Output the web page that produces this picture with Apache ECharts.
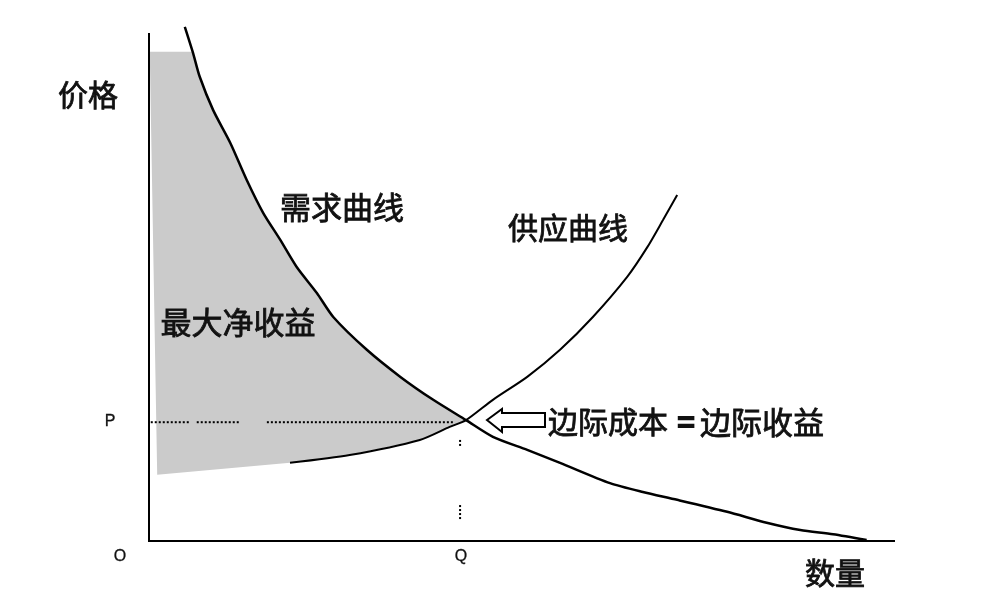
<!DOCTYPE html>
<html>
<head>
<meta charset="utf-8">
<script src="https://cdn.jsdelivr.net/npm/echarts@6/dist/echarts.min.js"></script>
<style>
html,body{margin:0;padding:0;background:#fff;}
#chart{width:1000px;height:604px;}
</style>
</head>
<body>
<div id="chart"></div>
<script>
// Demand curve (quantity, price) in chart units 0-100
const demandCurve = [
  [4.8,98.7],[5.9,93.7],[6.8,89.1],[8.6,82.7],[10.9,76.4],[13.1,69.3],[15.3,63.0],
  [17.6,57.8],[19.8,52.6],[22.5,47.6],[24.7,43.0],[29.2,36.7],[33.7,31.5],[38.1,27.1],
  [42.5,23.2],[46.1,20.0],[50.7,17.5],[55.1,15.0],[61.8,11.1],[66.2,9.4],[70.8,7.9],
  [77.5,5.6],[82.8,3.5],[87.3,2.1],[91.7,1.3],[96.2,0.2]
];
// Supply curve visible black part
const supplyCurve = [
  [18.9,15.0],[26.9,16.5],[36.3,19.4],[40.3,21.9],[42.5,23.2],[46.1,27.1],[50.7,31.5],
  [55.1,36.7],[59.5,43.0],[64.1,50.7],[66.8,56.4],[68.9,61.6],[70.8,66.4]
];
// Lower edge of shaded area (supply extended to the left)
const supplyLeft = [[1.1,12.7],[18.9,15.0]];
// Shaded area top boundary
const shadeTop = [[0.1,93.9],[5.9,93.9]];
// Equilibrium
const eqPrice = 22.8;
const eqQty = 41.7;
const priceDots = [[[-0.3,eqPrice],[5.4,eqPrice]],[[6.4,eqPrice],[12.1,eqPrice]],[[15.8,eqPrice],[41.0,eqPrice]]];
const qtyDots = [[[eqQty,19.4],[eqQty,18.0]],[[eqQty,6.9],[eqQty,4.0]]];
const axisTop = 97.5;
const axisRight = 100;

// Shaded polygon built from data
const demandPart = demandCurve.filter(p => p[1] <= 93.9 && p[0] <= 42.5);
const supplyPart = supplyCurve.filter(p => p[0] <= 42.5).slice().reverse();
const shadePoly = [].concat(shadeTop, demandPart, supplyPart, [supplyLeft[0]]);

const chart = echarts.init(document.getElementById('chart'), null, {renderer:'canvas'});
const CJK = '"Noto Sans CJK SC", "Noto Sans", sans-serif';

const series = [];
series.push({
  type:'custom', coordinateSystem:'cartesian2d', clip:false, silent:true, z:1,
  data:[[0,0]],
  renderItem: function(params, api){
    return {type:'polygon', shape:{points: shadePoly.map(p => api.coord(p))},
      style:{fill:'#cbcbcb', stroke:null}};
  }
});
priceDots.concat(qtyDots).forEach(seg => {
  series.push({type:'line', data:seg, symbol:'none', clip:false, silent:true, z:3,
    lineStyle:{color:'#000', width:2, type:[2,2]}});
});
series.push({type:'line', data:demandCurve, symbol:'none', smooth:0.25, clip:false, z:4,
  lineStyle:{color:'#000', width:2.5}});
series.push({type:'line', data:supplyCurve, symbol:'none', smooth:0.25, clip:false, z:4,
  lineStyle:{color:'#000', width:2}});
// axes lines
series.push({type:'line', data:[[0,0],[0,axisTop]], symbol:'none', clip:false, z:5,
  lineStyle:{color:'#000', width:2}});
series.push({type:'line', data:[[-0.3,0],[axisRight,0]], symbol:'none', clip:false, z:5,
  lineStyle:{color:'#000', width:2}});

const txt = (x, y, s, size, align, lw) => ({
  type:'text', x:x, y:y, z:10,
  style:{text:s, fontSize:size, fontWeight:'normal',
    fontFamily: size > 20 ? CJK : 'Arial, "Liberation Sans", sans-serif',
    fill:'#111', stroke:'#111', lineWidth: lw != null ? lw : (size > 20 ? 0.8 : 0.3),
    textAlign: align || 'center', textVerticalAlign:'middle'}
});

chart.setOption({
  animation:false,
  backgroundColor:'#fff',
  grid:{left:149, right:105, top:20, bottom:63},
  xAxis:{type:'value', min:0, max:100, show:false},
  yAxis:{type:'value', min:0, max:100, show:false},
  series: series,
  graphic:[
    txt(88, 95, '价格', 30),
    txt(835, 573, '数量', 30),
    txt(342, 207, '需求曲线', 31),
    txt(568, 228, '供应曲线', 30),
    txt(238, 322, '最大净收益', 31),
    txt(548, 422, '边际成本', 30, 'left'),
    txt(686, 422, '=', 30, 'center', 2.2),
    txt(700, 422, '边际收益', 31, 'left'),
    txt(110, 422, 'P', 16),
    txt(120, 557, 'O', 16),
    txt(461, 557, 'Q', 16),
    {type:'polygon', z:10, shape:{points:[[487,420],[502,409],[502,413],[545,413],[545,427],[502,427],[502,432]]},
      style:{fill:'#fff', stroke:'#000', lineWidth:2}}
  ]
});
</script>
</body>
</html>
